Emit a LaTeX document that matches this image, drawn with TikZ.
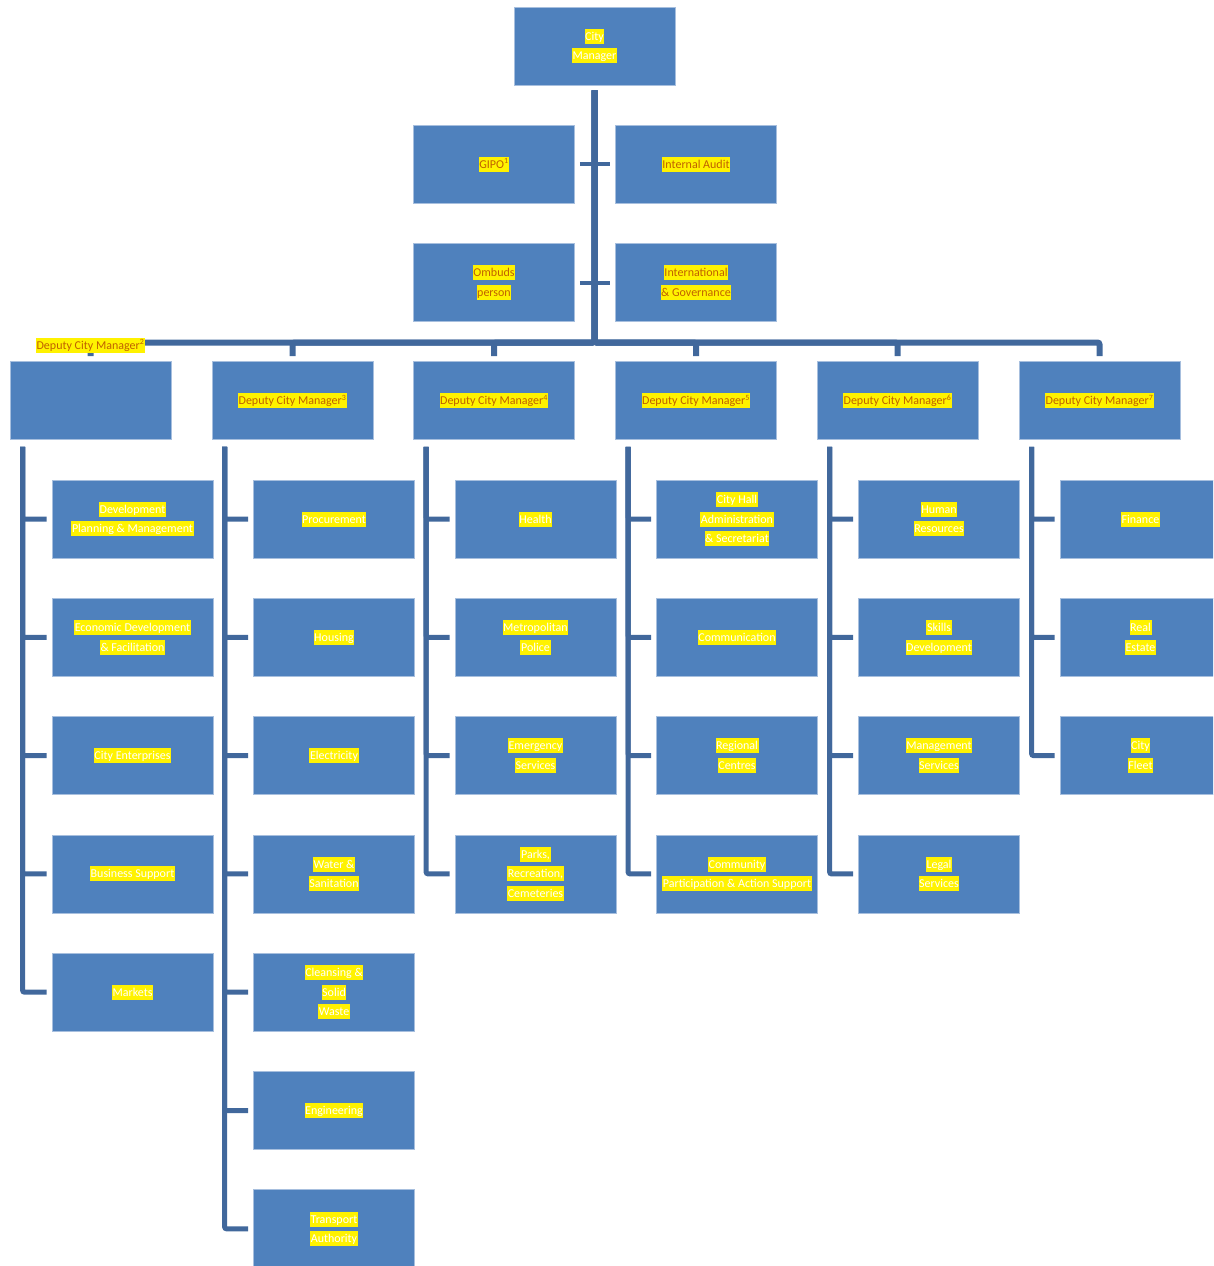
\documentclass[tikz,border=0pt]{standalone}
\usepackage{fontspec}
\setmainfont{Carlito}
\definecolor{boxfill}{RGB}{79,129,189}
\definecolor{boxedge}{RGB}{167,191,222}
\definecolor{linec}{RGB}{65,104,156}
\definecolor{headtxt}{RGB}{192,96,0}
\setlength{\fboxsep}{0pt}
\newcommand{\hl}[1]{\colorbox{yellow}{\rule[-3.5pt]{0pt}{15pt}\hspace{0.6pt}#1\hspace{0.6pt}}}
\tikzset{
  unit/.style ={draw=boxedge, line width=0.8pt, fill=boxfill,
                minimum width=161pt, minimum height=78pt, inner sep=0pt,
                align=center, font=\fontsize{12}{19.5}\selectfont},
  dept/.style ={unit, text=white},
  head/.style ={unit, text=headtxt},
  trunk/.style={draw=linec, line width=6pt, rounded corners=2pt,
                shorten <=5pt, shorten >=5pt},
  conn/.style ={draw=linec, line width=5pt, rounded corners=2pt,
                shorten >=5pt},
  tick/.style ={draw=linec, line width=4pt, shorten <=5pt, shorten >=5pt},
  lbl/.style  ={font=\fontsize{12}{19.5}\selectfont, text=headtxt, inner sep=0pt},
}
\begin{document}
\begin{tikzpicture}[x=1pt, y=-1pt]
  \useasboundingbox (0,0) rectangle (1213,1266);
  \clip (0,0) rectangle (1213,1266);
  % ---- top of the chart
  \node[dept] (cm)    at (594.5,46)    {\hl{City}\\\hl{Manager}};
  \node[head] (gipo)  at (494,164)     {\hl{GIPO\textsuperscript{1}}};
  \node[head] (audit) at (696,164)     {\hl{Internal Audit}};
  \node[head] (ombud) at (494,282.5)   {\hl{Ombuds}\\\hl{person}};
  \node[head] (intl)  at (696,282.5)   {\hl{International}\\\hl{\& Governance}};
  \coordinate (bar) at (594.5,342.5);
  % ---- deputies
  \node[head] (d2) at (90.5,400.5)   {};
  \node[head] (d3) at (292.5,400.5)  {\hl{Deputy City Manager\textsuperscript{3}}};
  \node[head] (d4) at (494,400.5)    {\hl{Deputy City Manager\textsuperscript{4}}};
  \node[head] (d5) at (696,400.5)    {\hl{Deputy City Manager\textsuperscript{5}}};
  \node[head] (d6) at (897.5,400.5)  {\hl{Deputy City Manager\textsuperscript{6}}};
  \node[head] (d7) at (1099.5,400.5) {\hl{Deputy City Manager\textsuperscript{7}}};
  % ---- departments
  \node[dept] (d2-1) at (132.5,519)   {\hl{Development}\\\hl{Planning \& Management}};
  \node[dept] (d2-2) at (132.5,637.3) {\hl{Economic Development}\\\hl{\& Facilitation}};
  \node[dept] (d2-3) at (132.5,755.6) {\hl{City Enterprises}};
  \node[dept] (d2-4) at (132.5,873.9) {\hl{Business Support}};
  \node[dept] (d2-5) at (132.5,992.2) {\hl{Markets}};
  \node[dept] (d3-1) at (334,519)    {\hl{Procurement}};
  \node[dept] (d3-2) at (334,637.3)  {\hl{Housing}};
  \node[dept] (d3-3) at (334,755.6)  {\hl{Electricity}};
  \node[dept] (d3-4) at (334,873.9)  {\hl{Water \&}\\\hl{Sanitation}};
  \node[dept] (d3-5) at (334,992.2)  {\hl{Cleansing \&}\\\hl{Solid}\\\hl{Waste}};
  \node[dept] (d3-6) at (334,1110.5) {\hl{Engineering}};
  \node[dept] (d3-7) at (334,1228.8) {\hl{Transport}\\\hl{Authority}};
  \node[dept] (d4-1) at (535.5,519)   {\hl{Health}};
  \node[dept] (d4-2) at (535.5,637.3) {\hl{Metropolitan}\\\hl{Police}};
  \node[dept] (d4-3) at (535.5,755.6) {\hl{Emergency}\\\hl{Services}};
  \node[dept] (d4-4) at (535.5,873.9) {\hl{Parks,}\\\hl{Recreation,}\\\hl{Cemeteries}};
  \node[dept] (d5-1) at (737,519)   {\hl{City Hall}\\\hl{Administration}\\\hl{\& Secretariat}};
  \node[dept] (d5-2) at (737,637.3) {\hl{Communication}};
  \node[dept] (d5-3) at (737,755.6) {\hl{Regional}\\\hl{Centres}};
  \node[dept] (d5-4) at (737,873.9) {\hl{Community}\\\hl{Participation \& Action Support}};
  \node[dept] (d6-1) at (939,519)   {\hl{Human}\\\hl{Resources}};
  \node[dept] (d6-2) at (939,637.3) {\hl{Skills}\\\hl{Development}};
  \node[dept] (d6-3) at (939,755.6) {\hl{Management}\\\hl{Services}};
  \node[dept] (d6-4) at (939,873.9) {\hl{Legal}\\\hl{Services}};
  \node[dept] (d7-1) at (1140.5,519)   {\hl{Finance}};
  \node[dept] (d7-2) at (1140.5,637.3) {\hl{Real}\\\hl{Estate}};
  \node[dept] (d7-3) at (1140.5,755.6) {\hl{City}\\\hl{Fleet}};
  % ---- connectors
  \draw[tick] (gipo) -- (audit);
  \draw[tick] (ombud) -- (intl);
  \foreach \d in {d2,d3,d4,d5,d6,d7}
    \draw[trunk] (cm.south) -- (cm.south |- bar) -| (\d.north);
  \foreach \d/\n in {d2/5,d3/7,d4/4,d5/4,d6/4,d7/3}
    \foreach \i in {1,...,\n}
      \draw[conn] ([shift={(13,7)}]\d.south west) |- (\d-\i.west);
  % label of the second deputy sits on the bar
  \node[lbl] (d2lbl) at (90.5,345) {\hl{Deputy City Manager\textsuperscript{2}}};
\end{tikzpicture}
\end{document}
